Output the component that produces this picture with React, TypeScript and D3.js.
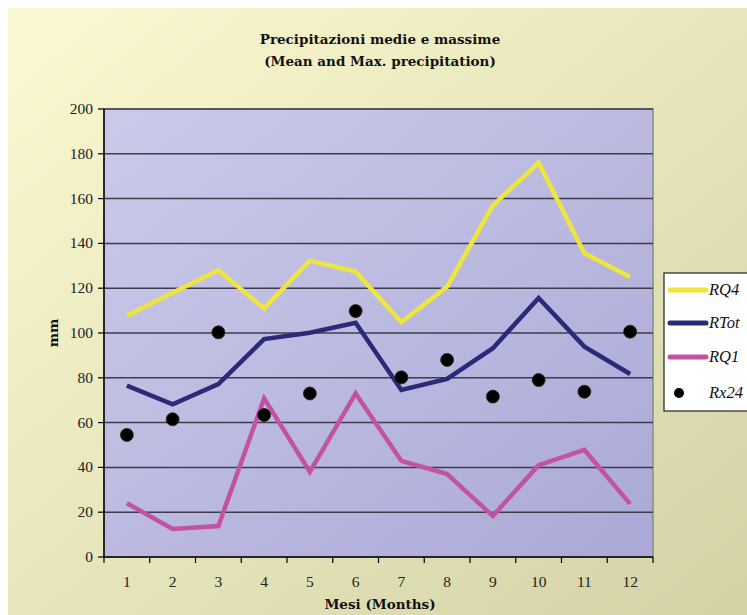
import React from "react";
import * as d3 from "d3";

const months = ["1", "2", "3", "4", "5", "6", "7", "8", "9", "10", "11", "12"];
const rq4 = [107.7, 118, 128, 111, 132.3, 127.4, 104.8, 120.7, 157, 176, 135.6, 125];
const rtot = [76.5, 68.2, 77.2, 97.3, 100.1, 104.6, 74.6, 79.5, 93.2, 115.6, 93.9, 81.7];
const rq1 = [24, 12.5, 13.8, 70.8, 38, 73, 42.9, 37, 18.3, 41, 47.8, 23.7];
const rx24 = [54.5, 61.5, 100.3, 63.4, 73, 109.8, 80.2, 88, 71.6, 79, 73.8, 100.6];
const yTicks = [0, 20, 40, 60, 80, 100, 120, 140, 160, 180, 200];

const lineSeries = [
  { name: "RQ4", values: rq4, color: "#eee63e" },
  { name: "RTot", values: rtot, color: "#2b2a78" },
  { name: "RQ1", values: rq1, color: "#c253a3" },
];

const W = 747;
const H = 615;
const left = 104;
const right = 653;
const top = 109;
const bottom = 557;
const FONT = "'Liberation Serif', 'DejaVu Serif', serif";
const BFONT = "'DejaVu Serif', 'Liberation Serif', serif";

export default function App() {
  const x = d3.scaleBand<string>().domain(months).range([left, right]).padding(0);
  const y = d3.scaleLinear().domain([0, 200]).range([bottom, top]);
  const cx = (i: number) => (x(months[i]) as number) + x.bandwidth() / 2;
  const line = d3
    .line<number>()
    .x((_, i) => cx(i))
    .y((d) => y(d));

  const boundaries = months.map((m) => x(m) as number).concat([right]);

  const legendItems = [
    ...lineSeries.map((s) => ({ name: s.name, color: s.color, type: "line" })),
    { name: "Rx24", color: "#000", type: "dot" },
  ];
  const legendY = [290, 323, 357, 393];

  return (
    <svg
      width={W}
      height={H}
      style={{ position: "absolute", left: 0, top: 0, display: "block" }}
    >
      <defs>
        <linearGradient id="bg" x1="0" y1="0" x2="1" y2="1">
          <stop offset="0%" stopColor="#fcf9d2" />
          <stop offset="100%" stopColor="#d3d2a5" />
        </linearGradient>
        <linearGradient id="plotbg" x1="0" y1="0" x2="1" y2="1">
          <stop offset="0%" stopColor="#cccae9" />
          <stop offset="100%" stopColor="#aaa9d7" />
        </linearGradient>
        <clipPath id="clipAll">
          <rect x={0} y={0} width={W} height={H} />
        </clipPath>
      </defs>
      <rect x={8} y={8} width={W - 8} height={H - 8} fill="url(#bg)" />

      {/* title */}
      <text x={380} y={44} textAnchor="middle" fontFamily={BFONT} fontWeight="bold" fontSize={13.5} fill="#111">
        Precipitazioni medie e massime
      </text>
      <text x={380} y={66} textAnchor="middle" fontFamily={BFONT} fontWeight="bold" fontSize={13.5} fill="#111">
        (Mean and Max. precipitation)
      </text>

      {/* plot area */}
      <rect x={left} y={top} width={right - left} height={bottom - top} fill="url(#plotbg)" stroke="#8a8a8a" strokeWidth={1.5} />

      {/* gridlines */}
      {yTicks.filter((t) => t > 0).map((t) => (
        <line key={t} x1={left} x2={right} y1={y(t)} y2={y(t)} stroke="#3c3c4c" strokeWidth={1.5} />
      ))}

      {/* y axis */}
      <line x1={left} x2={left} y1={top} y2={bottom} stroke="#000" strokeWidth={1.5} />
      {yTicks.map((t) => (
        <g key={t}>
          <line x1={left - 6} x2={left} y1={y(t)} y2={y(t)} stroke="#000" strokeWidth={1.2} />
          <text x={93} y={y(t) + 5} textAnchor="end" fontFamily={FONT} fontSize={15.5} fill="#222">
            {t}
          </text>
        </g>
      ))}
      <text
        transform={`translate(58,${(top + bottom) / 2}) rotate(-90)`}
        textAnchor="middle"
        fontFamily={BFONT}
        fontWeight="bold"
        fontSize={13.5}
        fill="#111"
      >
        mm
      </text>

      {/* x axis */}
      <line x1={left} x2={right} y1={bottom} y2={bottom} stroke="#000" strokeWidth={1.5} />
      {boundaries.map((b, i) => (
        <line key={i} x1={b} x2={b} y1={bottom} y2={bottom + 6} stroke="#000" strokeWidth={1.2} />
      ))}
      {months.map((m, i) => (
        <text key={m} x={cx(i)} y={587} textAnchor="middle" fontFamily={FONT} fontSize={15.5} fill="#222">
          {m}
        </text>
      ))}
      <text x={380} y={609} textAnchor="middle" fontFamily={BFONT} fontWeight="bold" fontSize={13.5} fill="#111">
        Mesi (Months)
      </text>

      {/* series */}
      {lineSeries.map((s) => (
        <path
          key={s.name}
          d={line(s.values) as string}
          fill="none"
          stroke={s.color}
          strokeWidth={4.5}
          strokeLinejoin="miter"
          strokeLinecap="butt"
        />
      ))}
      {rx24.map((v, i) => (
        <circle key={i} cx={cx(i)} cy={y(v)} r={6.5} fill="#000" stroke="#2a2a10" strokeWidth={0.8} />
      ))}

      {/* legend */}
      <g clipPath="url(#clipAll)">
        <rect x={664} y={273} width={100} height={138} fill="#ffffff" stroke="#222" strokeWidth={1.2} />
        {legendItems.map((it, i) =>
          it.type === "line" ? (
            <g key={it.name}>
              <line x1={670} x2={706} y1={legendY[i]} y2={legendY[i]} stroke={it.color} strokeWidth={5} strokeLinecap="round" />
              <text x={709} y={legendY[i] + 5} fontFamily={FONT} fontStyle="italic" fontSize={16.5} fill="#111">
                {it.name}
              </text>
            </g>
          ) : (
            <g key={it.name}>
              <circle cx={679} cy={legendY[i]} r={5} fill="#000" />
              <text x={709} y={legendY[i] + 5} fontFamily={FONT} fontStyle="italic" fontSize={16.5} fill="#111">
                {it.name}
              </text>
            </g>
          )
        )}
      </g>
    </svg>
  );
}
